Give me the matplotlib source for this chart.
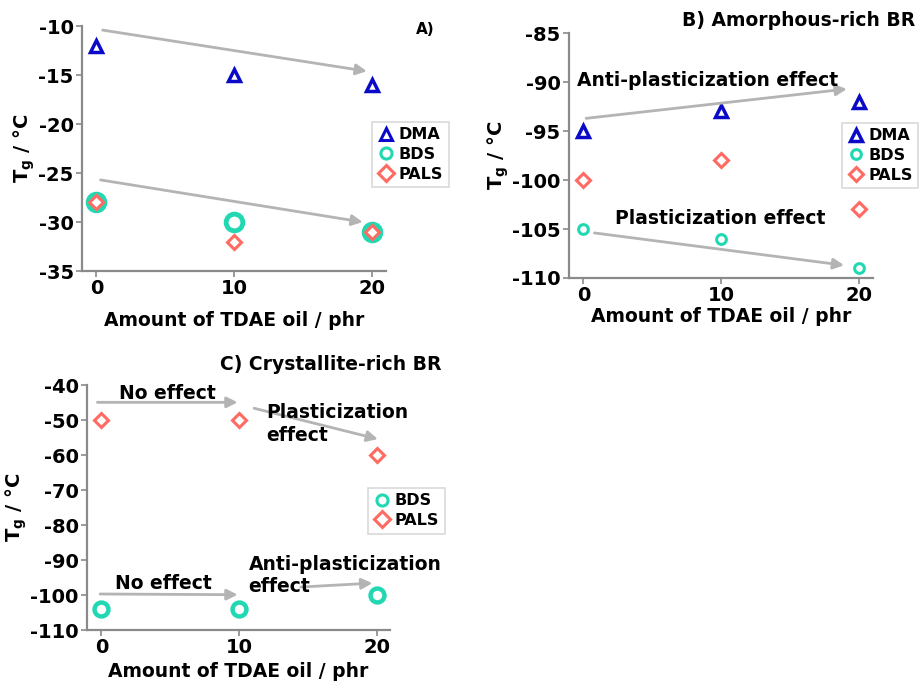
import matplotlib.pyplot as plt

plt.rcParams['font.family'] = 'DejaVu Sans'
plt.rcParams['font.weight'] = 'bold'
plt.rcParams['axes.unicode_minus'] = False

# TDAE oil content (phr)
oil = [0, 10, 20]

# A) Tg values
dma_a = [-12, -15, -16]
bds_a = [-28, -30, -31]
pals_a = [-28, -32, -31]

# B) Amorphous-rich BR
dma_b = [-95, -93, -92]
bds_b = [-105, -106, -109]
pals_b = [-100, -98, -103]

# C) Crystallite-rich BR
bds_c = [-104, -104, -100]
pals_c = [-50, -50, -60]

yticks_a = [-10, -15, -20, -25, -30, -35]
yticks_b = [-85, -90, -95, -100, -105, -110]
yticks_c = [-40, -50, -60, -70, -80, -90, -100, -110]

blue = '#0a0ac8'
teal = '#22d8b2'
salmon = '#ff6b62'
arrow_grey = '#b4b4b4'
spine_grey = '#8a8a8a'

fig = plt.figure(figsize=(9.19, 6.82), dpi=100)


def style_axes(ax, yticks, xpad):
    for s in ['top', 'right']:
        ax.spines[s].set_visible(False)
    for s in ['left', 'bottom']:
        ax.spines[s].set_color(spine_grey)
        ax.spines[s].set_linewidth(1.6)
    ax.set_xlim(-1.05, 21)
    ax.set_ylim(yticks[-1], yticks[0])
    ax.set_xticks(oil)
    ax.set_yticks(yticks)
    ax.tick_params(colors=spine_grey, labelcolor='black', labelsize=14,
                   length=4, width=1.2, pad=2)
    for lab in ax.get_xticklabels() + ax.get_yticklabels():
        lab.set_fontweight('bold')
    ax.set_xlabel('Amount of TDAE oil / phr', fontsize=13.5, fontweight='bold',
                  labelpad=xpad)
    ax.set_ylabel(r'T$_{\bf g}$ / °C', fontsize=14, fontweight='bold', labelpad=1)


def arrow(ax, x0, y0, x1, y1):
    ax.annotate('', xy=(x1, y1), xytext=(x0, y0),
                arrowprops=dict(arrowstyle='-|>', color=arrow_grey, lw=2,
                                mutation_scale=16, shrinkA=0, shrinkB=0))


def legend(ax, anchor):
    leg = ax.legend(loc='upper left', bbox_to_anchor=anchor, fontsize=11.5,
                    frameon=True, fancybox=False, handletextpad=0.3,
                    handlelength=1.0, borderpad=0.35, labelspacing=0.3,
                    borderaxespad=0.0)
    leg.get_frame().set_edgecolor('#d0d0d0')
    leg.get_frame().set_linewidth(1.2)
    for t in leg.get_texts():
        t.set_fontweight('bold')
    return leg


# ---- panel A ----
ax1 = fig.add_axes([0.0892, 0.6026, 0.331, 0.359])
ax1.plot(oil, dma_a, '^', ms=8, mfc='none', mec=blue, mew=2.5, ls='none', label='DMA')
ax1.plot(oil, bds_a, 'o', ms=12, mfc='none', mec=teal, mew=3.5, ls='none', label='BDS')
ax1.plot(oil, pals_a, 'D', ms=7, mfc='none', mec=salmon, mew=2.2, ls='none', label='PALS')
style_axes(ax1, yticks_a, 9)
arrow(ax1, 0.45, -10.4, 19.6, -14.6)
arrow(ax1, 0.3, -25.7, 19.3, -30.0)
leg1 = legend(ax1, (0.955, 0.61))
for h in leg1.legend_handles:
    h.set_markersize(8)
    h.set_markeredgewidth(2.2)
fig.text(0.453, 0.957, 'A)', fontsize=11, fontweight='bold', ha='left', va='center')

# ---- panel B ----
ax2 = fig.add_axes([0.619, 0.5924, 0.331, 0.359])
ax2.plot(oil, dma_b, '^', ms=8, mfc='none', mec=blue, mew=2.5, ls='none', label='DMA')
ax2.plot(oil, bds_b, 'o', ms=7, mfc='none', mec=teal, mew=2.2, ls='none', label='BDS')
ax2.plot(oil, pals_b, 'D', ms=7, mfc='none', mec=salmon, mew=2.2, ls='none', label='PALS')
style_axes(ax2, yticks_b, 1)
arrow(ax2, 0.2, -93.7, 19.1, -90.7)
arrow(ax2, 0.8, -105.4, 18.9, -108.7)
ax2.text(9.0, -89.8, 'Anti-plasticization effect', fontsize=13.5, fontweight='bold',
         ha='center', va='center')
ax2.text(9.9, -103.9, 'Plasticization effect', fontsize=13.5, fontweight='bold',
         ha='center', va='center')
legend(ax2, (0.898, 0.635))
fig.text(0.996, 0.970, 'B) Amorphous-rich BR', fontsize=13.5, fontweight='bold',
         ha='right', va='center')

# ---- panel C ----
ax3 = fig.add_axes([0.0947, 0.0762, 0.330, 0.359])
ax3.plot(oil, bds_c, 'o', ms=10, mfc='none', mec=teal, mew=3.2, ls='none', label='BDS')
ax3.plot(oil, pals_c, 'D', ms=7, mfc='none', mec=salmon, mew=2.2, ls='none', label='PALS')
style_axes(ax3, yticks_c, 3)
arrow(ax3, -0.3, -44.9, 9.9, -44.9)
arrow(ax3, 11.1, -46.6, 20.1, -55.4)
arrow(ax3, -0.1, -99.7, 9.9, -99.9)
arrow(ax3, 14.5, -97.7, 19.7, -96.6)
ax3.text(4.8, -42.3, 'No effect', fontsize=13.5, fontweight='bold', ha='center', va='center')
ax3.text(12.0, -51.2, 'Plasticization\neffect', fontsize=13.5, fontweight='bold',
         ha='left', va='center', linespacing=1.25)
ax3.text(4.5, -96.6, 'No effect', fontsize=13.5, fontweight='bold', ha='center', va='center')
ax3.text(10.7, -94.4, 'Anti-plasticization\neffect', fontsize=13.5, fontweight='bold',
         ha='left', va='center', linespacing=1.25)
leg3 = legend(ax3, (0.928, 0.582))
for h in leg3.legend_handles:
    h.set_markersize(8)
    h.set_markeredgewidth(2.2)
fig.text(0.48, 0.465, 'C) Crystallite-rich BR', fontsize=13.5, fontweight='bold',
         ha='right', va='center')

fig.savefig('out.png', dpi=100)
